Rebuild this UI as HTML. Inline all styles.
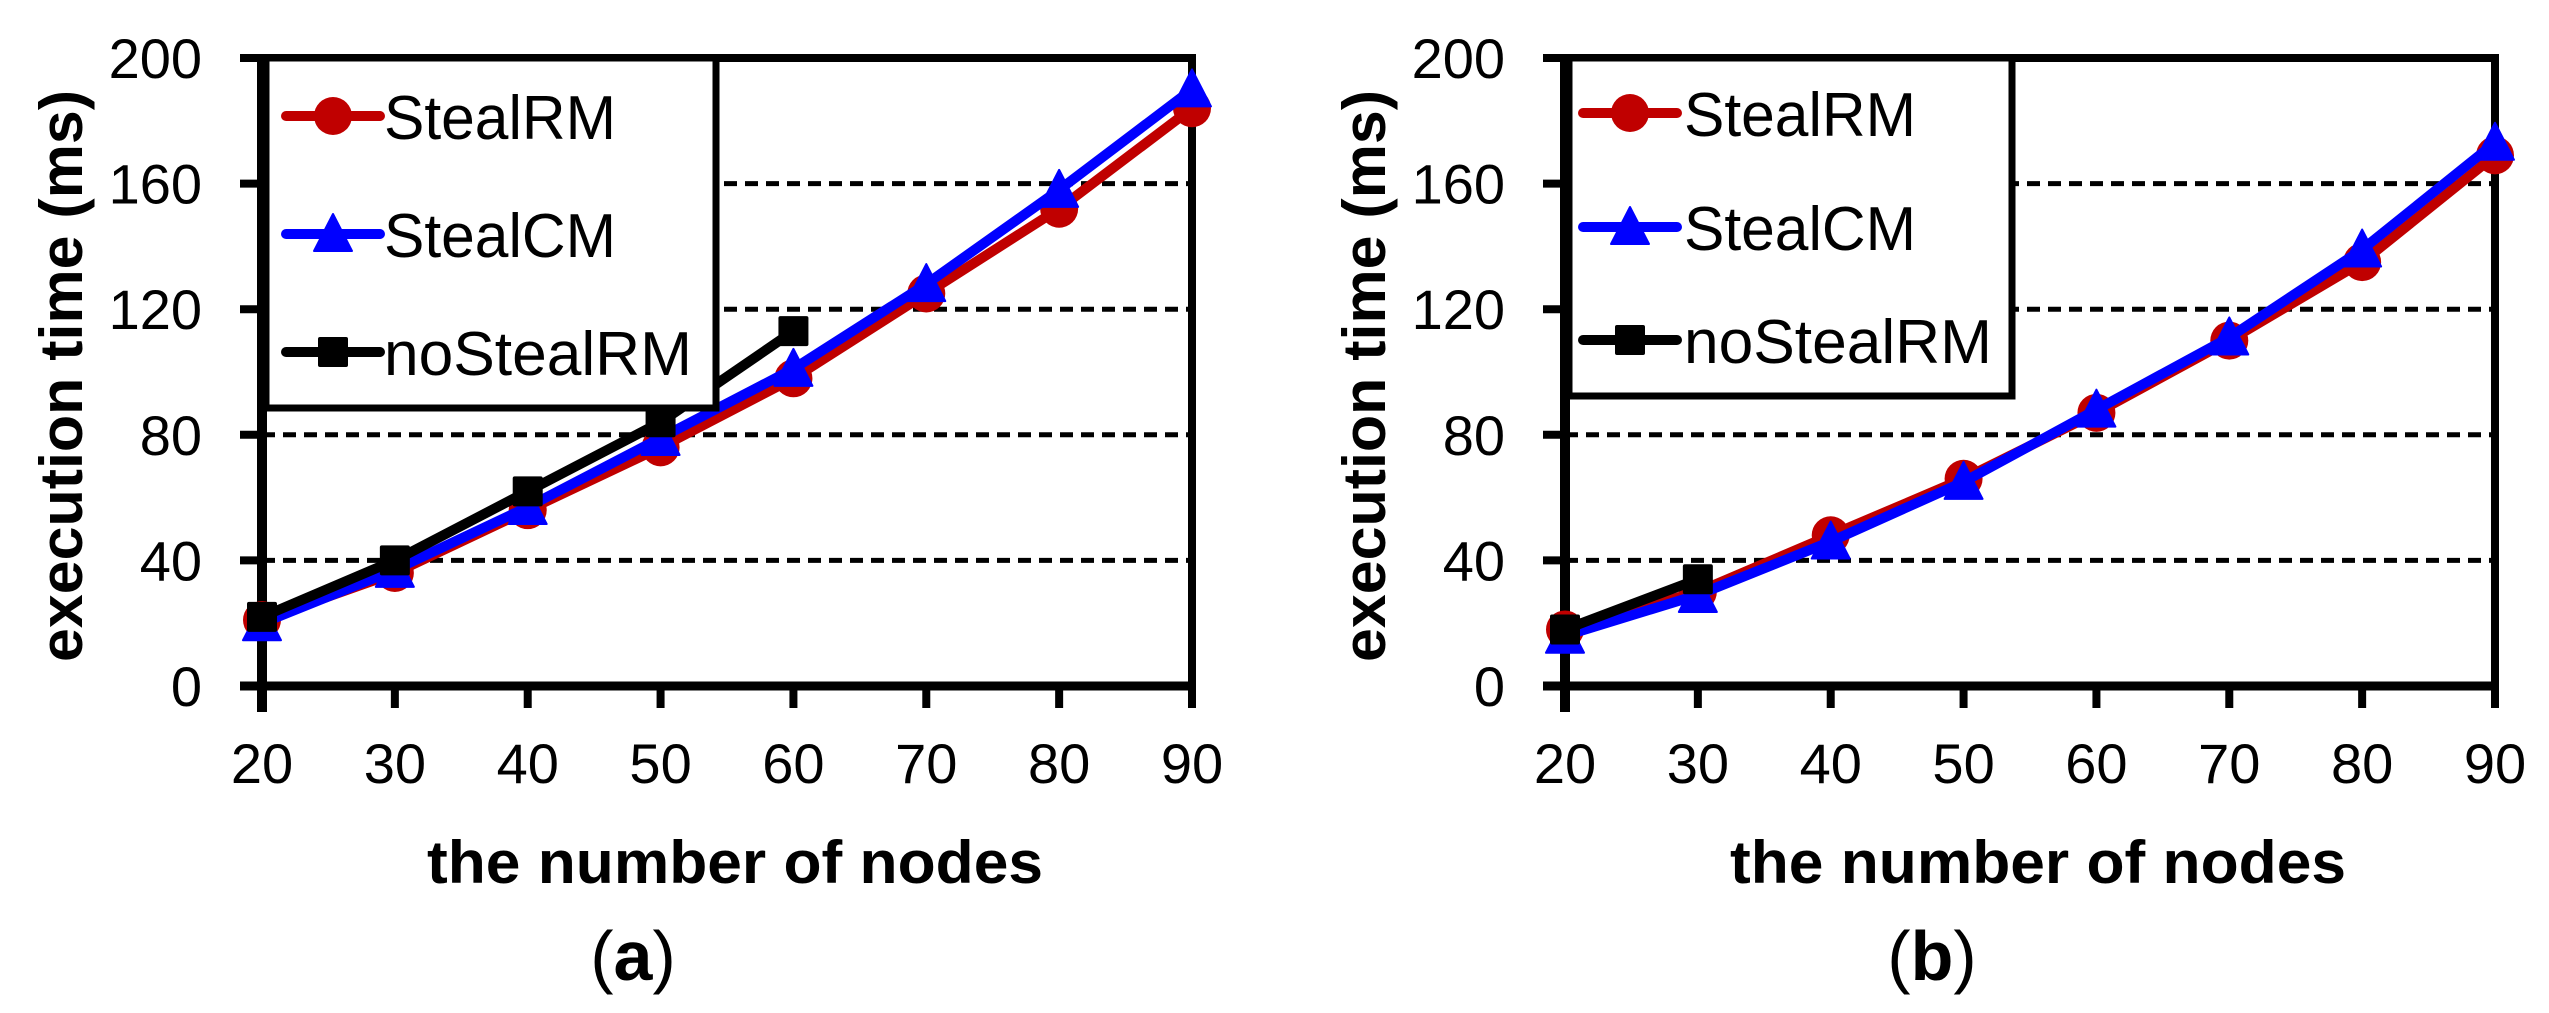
<!DOCTYPE html>
<html><head><meta charset="utf-8"><style>
html,body{margin:0;padding:0;background:#fff;}
svg{display:block;}
text{font-family:"Liberation Sans",sans-serif;}
</style></head><body>
<svg id="chart" width="2549" height="1013" viewBox="0 0 2549 1013" xmlns="http://www.w3.org/2000/svg"></svg>
<script>
const categories = [20, 30, 40, 50, 60, 70, 80, 90];
const yTicks = [0, 40, 80, 120, 160, 200];
const gridTicks = [40, 80, 120, 160];
const aStealRM = [21, 36, 56, 76, 98, 125, 152, 184];
const aStealCM = [20, 37, 57, 79, 101, 128, 158, 190];
const aNoStealRM = [22, 40, 62, 84, 113];
const bStealRM = [18, 30, 48, 66, 87, 110, 135, 169];
const bStealCM = [16, 29, 46, 65, 88, 111, 139, 173];
const bNoStealRM = [18, 34];
const seriesNames = ["StealRM", "StealCM", "noStealRM"];

const NS = "http://www.w3.org/2000/svg";
const svg = document.getElementById('chart');
function mk(tag, attrs, parent) {
  const e = document.createElementNS(NS, tag);
  for (const k in attrs) e.setAttribute(k, attrs[k]);
  (parent || svg).appendChild(e);
  return e;
}
function marker(g, type, cx, cy, color) {
  let m;
  if (type === 0) m = mk('circle', {cx: cx, cy: cy, r: 19, fill: color}, g);
  else if (type === 1) m = mk('polygon', {points: (cx) + ',' + (cy - 20) + ' ' + (cx - 19) + ',' + (cy + 17) + ' ' + (cx + 19) + ',' + (cy + 17), fill: color, 'stroke': color, 'stroke-width': 2, 'stroke-linejoin': 'round'}, g);
  else m = mk('rect', {x: cx - 15, y: cy - 15, width: 30, height: 30, rx: 2, fill: color}, g);
  return m;
}
const colors = ['#c00000', '#0000ff', '#000000'];

function panel(id, x0, x1, y0, yTop, data, legend, letter, letterX) {
  const g = mk('g', {});
  
  
  const xs = v => x0 + (categories.indexOf(v)) * (x1 - x0) / (categories.length - 1);
  const ys = v => y0 - v * (y0 - yTop) / 200;
  gridTicks.forEach(t => {
    const l = mk('line', {x1: x0, x2: x1, y1: ys(t), y2: ys(t), stroke: '#000', 'stroke-width': 5, 'stroke-dasharray': '13 8'}, g);
    
    
  });
  const fr = mk('path', {d: 'M' + x0 + ',' + yTop + ' H' + x1 + ' V' + y0, fill: 'none', stroke: '#000', 'stroke-width': 8}, g);
  
  
  const ya = mk('line', {x1: x0, x2: x0, y1: yTop - 4, y2: y0 + 26, stroke: '#000', 'stroke-width': 10}, g);
  
  
  const xa = mk('line', {x1: x0 - 22, x2: x1 + 4, y1: y0, y2: y0, stroke: '#000', 'stroke-width': 9}, g);
  
  
  yTicks.forEach(t => {
    const tk = mk('line', {x1: x0 - 22, x2: x0, y1: ys(t), y2: ys(t), stroke: '#000', 'stroke-width': 8}, g);
    
    
    const tl = mk('text', {x: x0 - 60, y: ys(t) + 20, 'text-anchor': 'end', 'font-size': 56}, g);
    tl.textContent = t;
    
    
  });
  categories.forEach(c => {
    const tk = mk('line', {x1: xs(c), x2: xs(c), y1: y0, y2: y0 + 22, stroke: '#000', 'stroke-width': 8}, g);
    
    
    const tl = mk('text', {x: xs(c), y: y0 + 97, 'text-anchor': 'middle', 'font-size': 56}, g);
    tl.textContent = c;
    
    
  });
  data.forEach((vals, si) => {
    const sg = mk('g', {}, g);
    
    
    const pts = vals.map((v, i) => xs(categories[i]) + ',' + ys(v)).join(' ');
    const pl = mk('polyline', {points: pts, fill: 'none', stroke: colors[si], 'stroke-width': 10, 'stroke-linejoin': 'round', 'stroke-linecap': 'round'}, sg);
    
    
    vals.forEach((v, i) => {
      const m = marker(sg, si, xs(categories[i]), ys(v), colors[si]);
      
      
    });
  });
  const lg = mk('g', {}, g);
  
  
  mk('rect', {x: legend.l, y: legend.t, width: legend.r - legend.l, height: legend.b - legend.t, fill: '#fff', stroke: '#000', 'stroke-width': 7}, lg);
  const lens = [232, 232, 308];
  seriesNames.forEach((n, i) => {
    const ey = legend.ys[i];
    const eg = mk('g', {}, lg);
    
    
    mk('line', {x1: legend.lx, x2: legend.lx + 94, y1: ey, y2: ey, stroke: colors[i], 'stroke-width': 10, 'stroke-linecap': 'round'}, eg);
    marker(eg, i, legend.lx + 47, ey, colors[i]);
    const t = mk('text', {x: legend.tx, y: ey + 23, 'font-size': 62, textLength: lens[i], lengthAdjust: 'spacingAndGlyphs'}, eg);
    t.textContent = n;
  });
  const yt = mk('text', {x: 0, y: 0, transform: 'translate(' + (x0 - 180) + ',' + 376 + ') rotate(-90)', 'text-anchor': 'middle', 'font-size': 60, 'font-weight': 'bold', textLength: 572, lengthAdjust: 'spacingAndGlyphs'}, g);
  yt.textContent = 'execution time (ms)';
  
  
  const xt = mk('text', {x: (x0 + x1) / 2 + 8, y: 883, 'text-anchor': 'middle', 'font-size': 60, 'font-weight': 'bold', textLength: 616, lengthAdjust: 'spacingAndGlyphs'}, g);
  xt.textContent = 'the number of nodes';
  
  
  const lt = mk('text', {x: letterX, y: 980, 'text-anchor': 'middle', 'font-size': 70, 'font-family': '"Liberation Serif", serif'}, g);
  lt.innerHTML = '(<tspan font-weight="bold">' + letter + '</tspan>)';
  
  
}
panel('a', 262, 1192, 686, 58, [aStealRM, aStealCM, aNoStealRM],
  {l: 266, r: 716, t: 58, b: 408, lx: 286, tx: 384, ys: [116, 234, 352]}, 'a', 633);
panel('b', 1565, 2495, 686, 58, [bStealRM, bStealCM, bNoStealRM],
  {l: 1569, r: 2012, t: 58, b: 396, lx: 1583, tx: 1684, ys: [113, 227, 340]}, 'b', 1932);
</script>
</body></html>
